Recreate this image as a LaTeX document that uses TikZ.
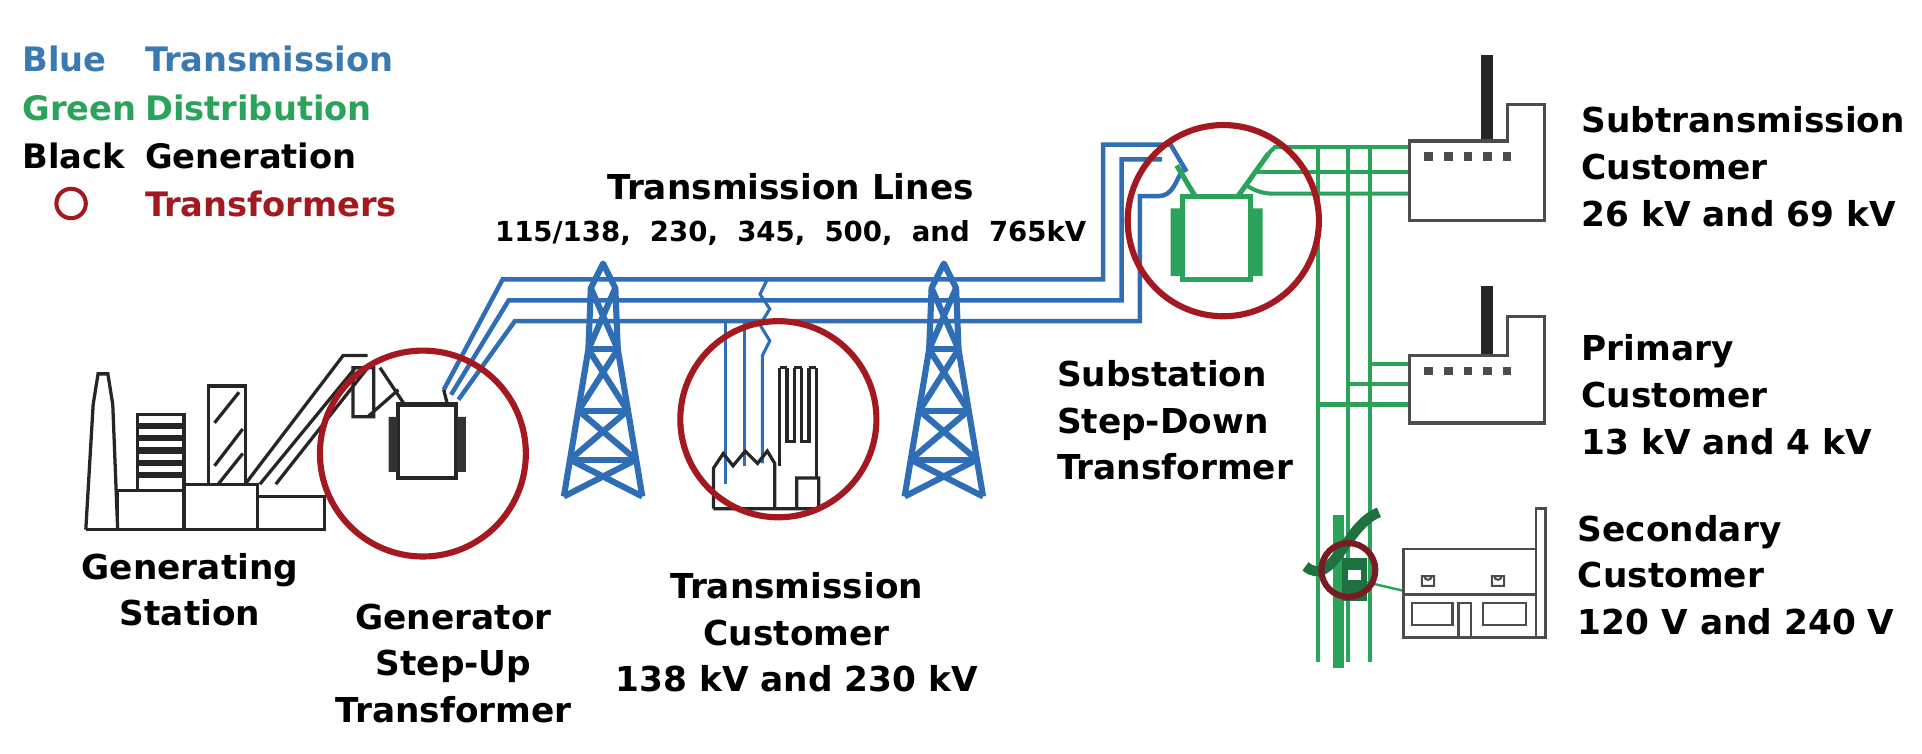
\documentclass[tikz,border=0pt]{standalone}
\usepackage{fontspec}
\setmainfont{DejaVu Sans}
\definecolor{tblue}{HTML}{2F6DB5}
\definecolor{lblue}{HTML}{3A7AB0}
\definecolor{tgreen}{HTML}{2BA35A}
\definecolor{tred}{HTML}{A3191F}
\definecolor{dred}{HTML}{7A1A22}
\begin{document}
\begin{tikzpicture}[x=0.6pt,y=-0.6pt,
  lbl/.style={font=\fontsize{16.8}{22.8}\selectfont\bfseries,align=center,inner sep=0},
  leg/.style={font=\fontsize{16.5}{18}\selectfont\bfseries,anchor=west,inner sep=0},
  ring/.style={draw=tred,line width=3pt},
  wire/.style={draw=tblue,line width=2.2pt},
  gw/.style={draw=tgreen,line width=2pt},
  blk/.style={draw=black!85,line width=1.6pt},
  twr/.style={draw=tblue,line width=3pt,line join=round}]
\useasboundingbox (0,0) rectangle (1568,615);
% legend
\node[leg,text=lblue] (l1) at (18,48) {Blue};
\node[leg,text=lblue] (l2) at (118,48) {Transmission};
\node[leg,text=tgreen] (l3) at (18,88) {Green};
\node[leg,text=tgreen] (l4) at (118,88) {Distribution};
\node[leg] (l5) at (18,127) {Black};
\node[leg] (l6) at (118,127) {Generation};
\draw[draw=tred,line width=2pt] (58,166) circle (12);
\node[leg,text=tred] (l7) at (118,166) {Transformers};
% titles
\node[lbl] (tl) at (645,152) {Transmission Lines};
\node[lbl,font=\fontsize{13.5}{14}\selectfont\bfseries] (tv) at (645,190) {115/138,\ \ 230,\ \ 345,\ \ 500,\ \ and\ \ 765kV};
% blue transmission wires
\draw[wire] (362,318) -- (410,228) -- (900,228) -- (900,118) -- (955,118) -- (968,140);
\draw[wire] (368,322) -- (415,245) -- (915,245) -- (915,130) -- (948,130);
\draw[wire] (374,326) -- (420,262) -- (930,262) -- (930,160) -- (945,160) to[out=0,in=-120] (965,138);
% transmission customer taps
\draw[draw=tblue,line width=1.5pt] (592,262) -- (592,395);
\draw[draw=tblue,line width=1.5pt] (607,262) -- (607,380);
\draw[draw=tblue,line width=1.5pt] (626,228) -- (620,240) -- (628,252) -- (620,265) -- (628,278) -- (622,290) -- (622,378);
% towers
\foreach \tx in {492,770}{
 \begin{scope}[shift={(\tx,405)}]
  \draw[twr] (-32,0) -- (-12,-120) -- (-10,-170) -- (0,-190) -- (10,-170) -- (12,-120) -- (32,0);
  \draw[twr] (-12,-120) -- (12,-120) (-20,-70) -- (20,-70) (-27,-30) -- (27,-30);
  \draw[twr] (-12,-120) -- (20,-70) (12,-120) -- (-20,-70);
  \draw[twr] (-20,-70) -- (27,-30) (20,-70) -- (-27,-30);
  \draw[twr] (-27,-30) -- (32,0) (27,-30) -- (-32,0);
  \draw[twr] (-10,-170) -- (12,-120) (10,-170) -- (-12,-120);
 \end{scope}}
% generating station
\draw[blk] (70,432) -- (76,330) -- (80,305) -- (88,305) -- (92,330) -- (96,432);
\draw[blk] (70,432) -- (265,432);
\draw[blk] (96,400) rectangle (150,432) (150,395) rectangle (210,432) (210,405) rectangle (265,432);
\draw[blk,fill=white] (112,338) rectangle (150,400);
\foreach \yy in {345,355,365,375,385}{\fill[black!85] (112,\yy) rectangle (150,\yy+5);}
\draw[blk] (170,315) rectangle (200,395);
\draw[blk] (175,345) -- (195,320) (175,380) -- (198,350) (178,395) -- (198,370);
\draw[blk] (200,395) -- (280,290) -- (300,290) (212,395) -- (290,300) (225,395) -- (300,300);
\draw[blk] (288,300) rectangle (305,340) (300,340) -- (325,318);
% GSU transformer
\draw[blk,line width=2pt] (325,330) rectangle (372,390);
\fill[black!80] (317,340) rectangle (324,385) (373,340) rectangle (380,385);
\draw[blk] (330,330) -- (310,300) (365,330) -- (362,318);
\draw[ring] (345,370) circle (84);
% transmission customer factory
\draw[blk] (582,415) -- (582,382) -- (590,370) -- (598,380) -- (608,368) -- (618,378) -- (626,368) -- (632,378) -- (632,415) (582,415) -- (668,415) -- (668,390) -- (650,390) -- (650,415);
\draw[blk] (636,380) -- (636,300) (642,300) -- (642,360) -- (648,360) -- (648,300) (654,300) -- (654,360) -- (660,360) -- (660,300) (666,300) -- (666,390) (636,300) -- (642,300) (648,300)--(654,300) (660,300)--(666,300);
\draw[ring] (635,342) circle (80);
% substation transformer
\draw[gw,line width=2.5pt] (965,160) rectangle (1020,228);
\fill[tgreen] (955,170) rectangle (963,225) (1022,170) rectangle (1030,225);
\draw[gw,line width=2.5pt] (975,160) -- (960,135) (1010,160) -- (1035,125);
% green network
\draw[gw] (1035,125) -- (1040,120) -- (1150,120);
\draw[gw] (1025,140) -- (1150,140);
\draw[gw] (1018,152) to[out=-30,in=180] (1040,158) -- (1150,158);
\foreach \gx in {1075,1100,1118}{\draw[gw] (\gx,120) -- (\gx,540);}
\draw[gw] (1118,297) -- (1150,297);
\draw[gw] (1100,313) -- (1150,313);
\draw[gw] (1075,330) -- (1150,330);
\draw[ring] (998,180) circle (78);
% pole and secondary transformer
\draw[draw=tgreen,line width=5pt] (1092,420) -- (1092,545);
\draw[draw=tgreen!70!black,line width=5pt] (1065,462) to[out=-40,in=200] (1125,418);
\fill[tgreen!70!black] (1095,455) rectangle (1115,490);
\fill[white] (1100,465) rectangle (1110,473);
\draw[gw,line width=1.2pt] (1115,475) -- (1145,482);
\draw[draw=dred,line width=3pt] (1100,465) circle (22);
% subtransmission factory
\fill[black!85] (1208,45) rectangle (1218,115);
\draw[blk,draw=black!70] (1150,115) -- (1230,115) -- (1230,85) -- (1260,85) -- (1260,180) -- (1150,180) -- cycle;
\foreach \wx in {1162,1178,1194,1210,1226}{\fill[black!70] (\wx,124) rectangle (\wx+7,131);}
% primary factory
\fill[black!85] (1208,233) rectangle (1218,290);
\draw[blk,draw=black!70] (1150,290) -- (1230,290) -- (1230,258) -- (1260,258) -- (1260,345) -- (1150,345) -- cycle;
\foreach \wx in {1162,1178,1194,1210,1226}{\fill[black!70] (\wx,299) rectangle (\wx+7,306);}
% house
\draw[blk,draw=black!70,line width=1.2pt] (1145,448) rectangle (1253,520) (1145,485) -- (1253,485) (1253,415) rectangle (1261,520);
\draw[blk,draw=black!70,line width=1.2pt] (1152,492) rectangle (1185,510) (1210,492) rectangle (1245,510) (1190,492) rectangle (1200,520);
\foreach \lx in {1165,1222}{\draw[black!70,line width=1pt] (\lx-5,470) rectangle (\lx+5,478) (\lx-3,470) arc (180:0:3);}
% labels
\node[lbl] (gs) at (155,481) {Generating\\Station};
\node[lbl] (gu) at (370,541) {Generator\\Step-Up\\Transformer};
\node[lbl] (tc) at (650,516) {Transmission\\Customer\\138 kV and 230 kV};
\node[lbl,align=left,anchor=west] (ss) at (862,343) {Substation\\Step-Down\\Transformer};
\node[lbl,align=left,anchor=west] (sc) at (1290,136) {Subtransmission\\Customer\\26 kV and 69 kV};
\node[lbl,align=left,anchor=west] (pc) at (1290,322) {Primary\\Customer\\13 kV and 4 kV};
\node[lbl,align=left,anchor=west] (sec) at (1287,469) {Secondary\\Customer\\120 V and 240 V};
\end{tikzpicture}
\end{document}
